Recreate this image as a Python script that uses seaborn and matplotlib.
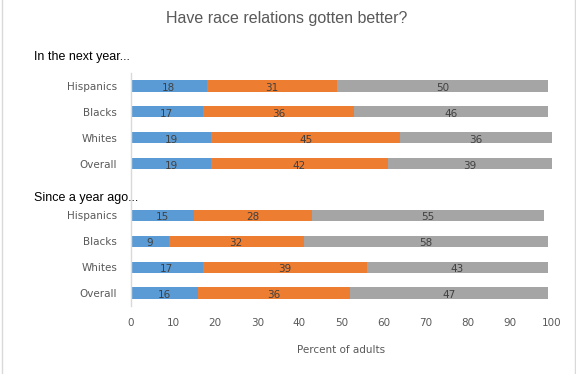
import matplotlib
matplotlib.use("Agg")
import matplotlib.pyplot as plt
from matplotlib.patches import Rectangle
import seaborn as sns
import pandas as pd

groups = ["Hispanics", "Blacks", "Whites", "Overall"]
next_better = [18, 17, 19, 19]
next_same = [31, 36, 45, 42]
next_worse = [50, 46, 36, 39]
ago_better = [15, 9, 17, 16]
ago_same = [28, 32, 39, 36]
ago_worse = [55, 58, 43, 47]

colors = ["#5B9BD5", "#ED7D31", "#A5A5A5"]
label_color = "#404040"
tick_color = "#595959"

# one empty slot between the two blocks
rows = []
for i, g in enumerate(groups):
    rows.append((i, g, next_better[i], next_same[i], next_worse[i]))
for i, g in enumerate(groups):
    rows.append((i + 5, g, ago_better[i], ago_same[i], ago_worse[i]))
df = pd.DataFrame(rows, columns=["pos", "group", "a", "b", "c"])
df["ab"] = df["a"] + df["b"]
df["abc"] = df["ab"] + df["c"]

sns.set_style("white")
plt.rcParams["font.family"] = ["DejaVu Sans"]

fig = plt.figure(figsize=(5.76, 3.74), dpi=100)
ax = fig.add_axes([131 / 576, 1 - 306 / 374, 421 / 576, 233 / 374])

# stacked bars drawn back to front
for col, c in [("abc", colors[2]), ("ab", colors[1]), ("a", colors[0])]:
    sns.barplot(data=df, x=col, y="pos", orient="y", native_scale=True,
                color=c, width=0.43, saturation=1, linewidth=0, ax=ax)

for _, r in df.iterrows():
    starts = [0, r["a"], r["ab"]]
    for s, v in zip(starts, [r["a"], r["b"], r["c"]]):
        ax.text(s + v / 2, r["pos"] + 0.08, f"{v:.0f}", ha="center", va="center",
                fontsize=7.5, color=label_color)

ax.set_xlim(0, 100)
ax.set_ylim(8.5, -0.5)
ax.set_xticks(range(0, 101, 10))
ax.set_yticks(df["pos"])
ax.set_yticklabels(df["group"])
ax.tick_params(axis="both", length=0, labelsize=7.5, colors=tick_color)
ax.tick_params(axis="x", pad=9)
ax.tick_params(axis="y", pad=10)
ax.set_xlabel("Percent of adults", fontsize=7.5, color=tick_color, labelpad=12)
ax.set_ylabel("")
for s in ["top", "right", "bottom"]:
    ax.spines[s].set_visible(False)
ax.spines["left"].set_color("#D9D9D9")
ax.spines["left"].set_linewidth(1)

fig.text(287 / 576, 1 - 18 / 374, "Have race relations gotten better?",
         ha="center", va="center", fontsize=11.5, color="#595959",
         family=["Liberation Sans"])
fig.text(34 / 576, 1 - 57 / 374, "In the next year...", ha="left", va="center",
         fontsize=9, color="black", family=["Liberation Sans"])
fig.text(34 / 576, 1 - 198 / 374, "Since a year ago...", ha="left", va="center",
         fontsize=9, color="black", family=["Liberation Sans"])

fig.patches.append(Rectangle((1.5 / 576, -0.02), 573 / 576, 1.1,
                             transform=fig.transFigure, fill=False,
                             edgecolor="#D9D9D9", linewidth=1))

fig.savefig("out.png", dpi=100)
